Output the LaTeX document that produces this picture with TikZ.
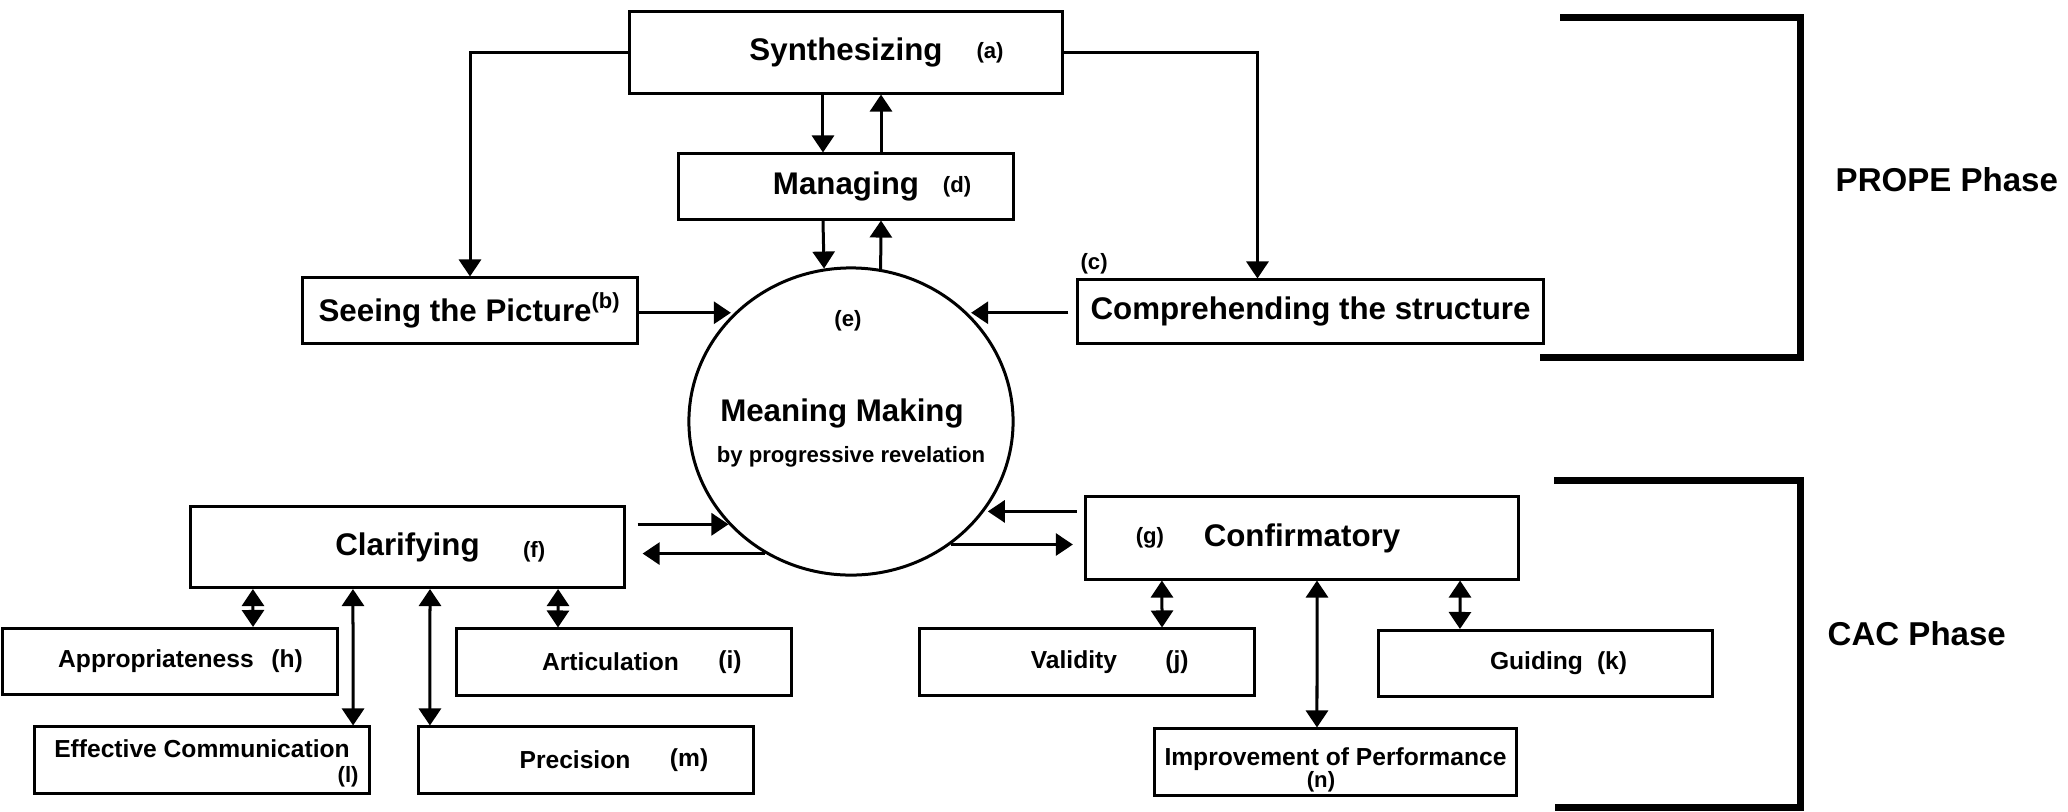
\documentclass[tikz,border=0pt]{standalone}
\usepackage{fontspec}
\setmainfont{Liberation Sans}
\usetikzlibrary{shapes.geometric,arrows.meta,positioning}
\tikzset{
    mainbox/.style={
           rectangle,
           draw=black, line width=0.03cm,
           minimum width=4.33cm,
           minimum height=0.81cm,
           inner sep=0pt,
           font=\fontsize{8.9}{10}\selectfont\bfseries
           },
    midbox/.style={
           mainbox,
           minimum width=3.34cm,
           minimum height=0.65cm
           },
    subbox/.style={
           mainbox,
           minimum width=3.34cm,
           minimum height=0.66cm,
           font=\fontsize{7}{8}\selectfont\bfseries
           },
    tag/.style={
           inner sep=0pt,
           font=\fontsize{6.3}{7}\selectfont\bfseries
           },
    subtag/.style={
           tag,
           font=\fontsize{7}{8}\selectfont\bfseries
           },
    phase/.style={
           anchor=west, inner sep=0pt,
           font=\fontsize{9.4}{11}\selectfont\bfseries
           },
    link/.style={
           line width=0.03cm
           },
    bracket/.style={
           line width=0.07cm
           }
}
\begin{document}
\begin{tikzpicture}[x=0.01cm, y=-0.01cm, >={Triangle[length=0.17cm,width=0.22cm]}]
\useasboundingbox (0,0) rectangle (2068,811);
   % PROPE phase
   \node[mainbox] (synth) at (846,52.5) {Synthesizing};
   \node[midbox] (mng) at (846,186.5) {Managing};
   \node[midbox] (see) at (470,310.5) {Seeing the Picture\textsuperscript{(b)}};
   \node[midbox, minimum width=4.65cm, minimum height=0.63cm] (comp) at (1310.5,311.5) {Comprehending the structure};
   \node[ellipse, draw, line width=0.03cm, minimum width=3.24cm, minimum height=3.07cm, inner sep=0pt] (mm) at (851,421.5) {};
   \node[font=\fontsize{8.9}{10}\selectfont\bfseries, inner sep=0pt] (mmtxt) at ([xshift=-0.09cm, yshift=0.085cm]mm.center) {Meaning Making};
   \node[font=\fontsize{6.3}{7}\selectfont\bfseries, inner sep=0pt] (mmsub) at ([yshift=-0.355cm]mm.center) {by progressive revelation};
   \node[tag] (ta) at ([xshift=1.44cm]synth.center) {(a)};
   \node[tag] (td) at ([xshift=1.11cm]mng.center) {(d)};
   \node[tag, anchor=south west, inner sep=1pt] (tc) at (comp.north west) {(c)};
   \node[tag] (te) at ([xshift=-0.03cm, yshift=1.01cm]mm.center) {(e)};
   % CAC phase
   \node[mainbox] (clar) at (407.5,547) {Clarifying};
   \node[mainbox, minimum height=0.82cm] (conf) at (1302,538) {Confirmatory};
   \node[subbox] (appr) at (170,661.5) {Appropriateness\kern0.28cm};
   \node[subbox] (artic) at (624,662) {Articulation\kern0.27cm};
   \node[subbox] (effc) at (202,760) {\raisebox{0.22cm}{Effective Communication}};
   \node[subbox] (prec) at (586,760) {Precision\kern0.22cm};
   \node[subbox] (valid) at (1087,662) {Validity\kern0.26cm};
   \node[subbox] (guid) at (1545.5,663.5) {Guiding\kern0.18cm};
   \node[subbox, minimum width=3.61cm] (impr) at (1335.5,762) {\raisebox{0.1cm}{Improvement of Performance}};
   \node[tag] (tf) at ([xshift=1.265cm, yshift=-0.05cm]clar.center) {(f)};
   \node[tag] (tg) at ([xshift=-1.52cm]conf.center) {(g)};
   \node[subtag] (th) at ([xshift=1.17cm]appr.center) {(h)};
   \node[subtag] (ti) at ([xshift=1.06cm]artic.center) {(i)};
   \node[subtag] (tj) at ([xshift=0.9cm]valid.center) {(j)};
   \node[subtag] (tk) at ([xshift=0.665cm]guid.center) {(k)};
   \node[tag] (tl) at ([xshift=1.46cm, yshift=-0.17cm]effc.center) {(l)};
   \node[subtag] (tm) at ([xshift=1.03cm]prec.center) {(m)};
   \node[tag] (tn) at ([xshift=-0.145cm, yshift=-0.2cm]impr.center) {(n)};
   % phases
   \draw[bracket] (1560,17) -- (1800,17) -- (1800,357) -- (1540,357);
   \draw[bracket] (1554,480) -- (1800,480) -- (1800,807) -- (1555,807);
   \node[phase] (prope) at (1835,180) {PROPE Phase};
   \node[phase] (cac) at (1827,634) {CAC Phase};
   % connectors
   \draw[->, link] (synth.west) -| (see.north);
   \draw[->, link] (synth.east) -| ([xshift=-0.53cm]comp.north);
   \path[->, link]
    ([xshift=-0.23cm]synth.south) edge ([xshift=-0.23cm]mng.north)
    ([xshift=0.35cm]mng.north) edge ([xshift=0.35cm]synth.south)
    ([xshift=-0.23cm]mng.south) edge (mm.100)
    (mm.79) edge ([xshift=0.35cm]mng.south)
    (see.east |- mm.137) edge[shorten >=1pt] (mm.137)
    (comp.west |- mm.43) edge[shorten <=0.08cm, shorten >=1pt] (mm.43)
    (clar.east |- mm.220) edge[shorten <=0.12cm] (mm.220)
    (mm.237) edge[shorten >=0.17cm] (mm.237 -| clar.east)
    (conf.west |- mm.326) edge[shorten <=0.07cm, shorten >=1pt] (mm.326)
    (mm.309) edge[shorten >=0.11cm] (mm.309 -| conf.west);
   \path[<->, link]
    ([xshift=-1.545cm]clar.south) edge ([xshift=0.83cm]appr.north)
    ([xshift=-0.545cm]clar.south) edge ([xshift=1.51cm]effc.north)
    ([xshift=0.225cm]clar.south) edge ([xshift=-1.56cm]prec.north)
    ([xshift=1.505cm]clar.south) edge ([xshift=-0.66cm]artic.north)
    ([xshift=-1.4cm]conf.south) edge ([xshift=0.75cm]valid.north)
    ([xshift=0.15cm]conf.south) edge ([xshift=-0.185cm]impr.north)
    ([xshift=1.58cm]conf.south) edge ([xshift=-0.855cm]guid.north);
\end{tikzpicture}
\end{document}
